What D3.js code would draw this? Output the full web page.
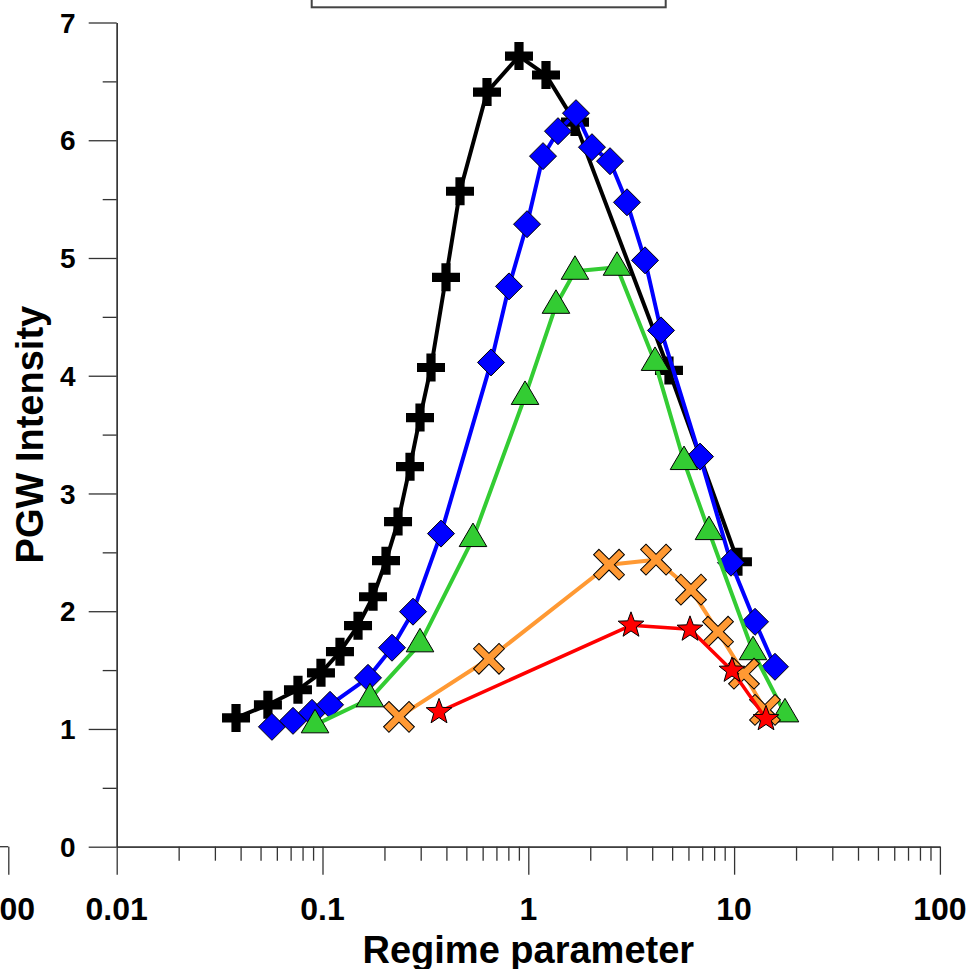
<!DOCTYPE html>
<html>
<head>
<meta charset="utf-8">
<script src="https://cdn.jsdelivr.net/npm/d3@7"></script>
<style>
  html, body { margin: 0; padding: 0; background: #fff; }
  svg { display: block; }
  text { font-family: "Liberation Sans", Arial, sans-serif; font-weight: bold; fill: #000; }
</style>
</head>
<body>
<svg id="chart" width="973" height="969"></svg>
<script>
// ---- data ----
const blackX = [0.0380, 0.0543, 0.0760, 0.0983, 0.1216, 0.1488, 0.176, 0.2035, 0.2328, 0.2662, 0.2977, 0.3367, 0.3982, 0.4657, 0.630, 0.901, 1.219, 1.686, 4.826, 10.44];
const blackY = [1.094, 1.205, 1.333, 1.477, 1.656, 1.877, 2.123, 2.429, 2.761, 3.228, 3.645, 4.070, 4.836, 5.567, 6.409, 6.715, 6.554, 6.154, 4.045, 2.420];

const blueX = [0.0568, 0.0719, 0.0889, 0.1088, 0.1664, 0.2176, 0.2753, 0.3765, 0.659, 0.806, 0.986, 1.179, 1.394, 1.705, 2.039, 2.495, 3.017, 3.692, 4.414, 6.830, 9.659, 12.64, 15.80];
const blueY = [1.018, 1.069, 1.137, 1.205, 1.434, 1.690, 1.996, 2.659, 4.113, 4.759, 5.287, 5.865, 6.077, 6.230, 5.941, 5.822, 5.473, 4.980, 4.385, 3.313, 2.412, 1.910, 1.528];

const greenX = [0.0920, 0.1701, 0.2977, 0.5386, 0.964, 1.363, 1.686, 2.698, 4.128, 5.710, 7.551, 12.36, 17.67];
const greenY = [1.035, 1.256, 1.723, 2.617, 3.824, 4.598, 4.887, 4.921, 4.113, 3.271, 2.676, 1.656, 1.128];

const orangeX = [0.2353, 0.644, 2.467, 4.174, 6.173, 8.353, 11.17, 14.13];
const orangeY = [1.103, 1.596, 2.395, 2.438, 2.183, 1.826, 1.469, 1.162];

const redX = [0.3683, 3.155, 6.105, 9.767, 14.29];
const redY = [1.145, 1.880, 1.846, 1.497, 1.086];

const xMajorTicks = [0.01, 0.1, 1, 10, 100];
const xTickLabels = ["0.01", "0.1", "1", "10", "100"];
const yMajorTicks = [0, 1, 2, 3, 4, 5, 6, 7];
const yTickLabels = ["0", "1", "2", "3", "4", "5", "6", "7"];
const xTitle = "Regime parameter";
const yTitle = "PGW Intensity";

// ---- layout ----
const svg = d3.select("#chart");
const axisColor = "#333";
const decade = 205.8;
const x = d3.scaleLog().domain([0.01, 100]).range([116.7, 116.7 + 4 * decade]);
const y = d3.scaleLinear().domain([0, 7]).range([846.7, 22.5]);

// minor ticks: 2..9 within each decade
const xMinorTicks = [];
for (let e = -2; e < 2; e++) for (let k = 2; k <= 9; k++) xMinorTicks.push(k * Math.pow(10, e));
const yMinorTicks = d3.range(0.5, 7, 1);

function styleAxis(g) {
  g.selectAll("path, line").attr("stroke", axisColor).attr("stroke-width", 1.3);
  g.selectAll("text").remove();
}

// right end of the neighbouring panel's x axis, sharing the same decade spacing
const xPrev = d3.scaleLog().domain([0.01, 100]).range([8.3 - 4 * decade, 8.3]);
svg.append("line")
  .attr("x1", 0).attr("x2", xPrev(100))
  .attr("y1", y(0)).attr("y2", y(0))
  .attr("stroke", axisColor).attr("stroke-width", 1.3);
svg.append("g").attr("transform", `translate(0,${y(0)})`)
  .call(d3.axisBottom(xPrev).tickValues([100]).tickSize(28).tickSizeOuter(0).tickFormat(""))
  .call(styleAxis)
  .call(g => g.select(".domain").remove());
svg.append("text")
  .attr("x", xPrev(100)).attr("y", 920)
  .attr("text-anchor", "middle").attr("font-size", 32)
  .text("100");

// legend frame (mostly above the visible area)
svg.append("rect")
  .attr("x", 311.7).attr("y", -60).attr("width", 354).attr("height", 67.3)
  .attr("fill", "#fff").attr("stroke", "#444").attr("stroke-width", 2);

// x axis
svg.append("g").attr("transform", `translate(0,${y(0)})`)
  .call(d3.axisBottom(x).tickValues(xMinorTicks).tickSize(14).tickSizeOuter(0).tickFormat(""))
  .call(styleAxis);
svg.append("g").attr("transform", `translate(0,${y(0)})`)
  .call(d3.axisBottom(x).tickValues(xMajorTicks).tickSize(28).tickSizeOuter(0).tickFormat(""))
  .call(styleAxis);
svg.append("g").selectAll("text").data(xMajorTicks).join("text")
  .attr("x", d => x(d)).attr("y", 920)
  .attr("text-anchor", "middle").attr("font-size", 32)
  .text((d, i) => xTickLabels[i]);

// y axis
svg.append("g").attr("transform", `translate(${x(0.01)},0)`)
  .call(d3.axisLeft(y).tickValues(yMinorTicks).tickSize(14).tickSizeOuter(0).tickFormat(""))
  .call(styleAxis);
svg.append("g").attr("transform", `translate(${x(0.01)},0)`)
  .call(d3.axisLeft(y).tickValues(yMajorTicks).tickSize(28).tickSizeOuter(0).tickFormat(""))
  .call(styleAxis);
svg.append("g").selectAll("text").data(yMajorTicks).join("text")
  .attr("x", 75.5).attr("y", d => y(d)).attr("dy", "0.36em")
  .attr("text-anchor", "end").attr("font-size", 28)
  .text((d, i) => yTickLabels[i]);

// axis titles
svg.append("text")
  .attr("x", x(1)).attr("y", 963)
  .attr("text-anchor", "middle").attr("font-size", 38)
  .text(xTitle);
svg.append("text")
  .attr("transform", `translate(43,${y(3.5)}) rotate(-90)`)
  .attr("text-anchor", "middle").attr("font-size", 38)
  .text(yTitle);

// ---- marker shapes ----
function plusPath(L, w) {
  return `M${-L},${-w}H${-w}V${-L}H${w}V${-w}H${L}V${w}H${w}V${L}H${-w}V${w}H${-L}Z`;
}
function starPath(R, r) {
  const pts = [];
  for (let i = 0; i < 10; i++) {
    const a = -Math.PI / 2 + i * Math.PI / 5;
    const rad = i % 2 === 0 ? R : r;
    pts.push([rad * Math.cos(a), rad * Math.sin(a)]);
  }
  return "M" + pts.map(p => p.join(",")).join("L") + "Z";
}
const markers = {
  plus: { d: plusPath(14, 4.6), rot: 0, stroke: "none" },
  diamond: { d: "M0,-13.5L13.5,0L0,13.5L-13.5,0Z", rot: 0, stroke: "#000" },
  triangle: { d: "M0,-15.5L13.8,8L-13.8,8Z", rot: 0, stroke: "#000" },
  cross: { d: plusPath(18, 3.8), rot: 45, stroke: "#000" },
  star: { d: starPath(13.5, 5.6), rot: 0, stroke: "#000" }
};

const series = [
  { xs: blackX, ys: blackY, color: "#000000", marker: "plus", width: 4 },
  { xs: blueX, ys: blueY, color: "#0000ff", marker: "diamond", width: 4 },
  { xs: greenX, ys: greenY, color: "#33cc33", marker: "triangle", width: 4 },
  { xs: orangeX, ys: orangeY, color: "#ff9933", marker: "cross", width: 4 },
  { xs: redX, ys: redY, color: "#ff0000", marker: "star", width: 3.5 }
];

const line = d3.line().x(d => x(d[0])).y(d => y(d[1]));

series.forEach(s => {
  const pts = s.xs.map((v, i) => [v, s.ys[i]]);
  const g = svg.append("g");
  g.append("path")
    .attr("d", line(pts))
    .attr("fill", "none").attr("stroke", s.color)
    .attr("stroke-width", s.width).attr("stroke-linejoin", "round");
  const m = markers[s.marker];
  g.selectAll("path.mk").data(pts).join("path")
    .attr("class", "mk")
    .attr("d", m.d)
    .attr("transform", d => `translate(${x(d[0])},${y(d[1])}) rotate(${m.rot})`)
    .attr("fill", s.color)
    .attr("stroke", m.stroke).attr("stroke-width", 1);
});
</script>
</body>
</html>
